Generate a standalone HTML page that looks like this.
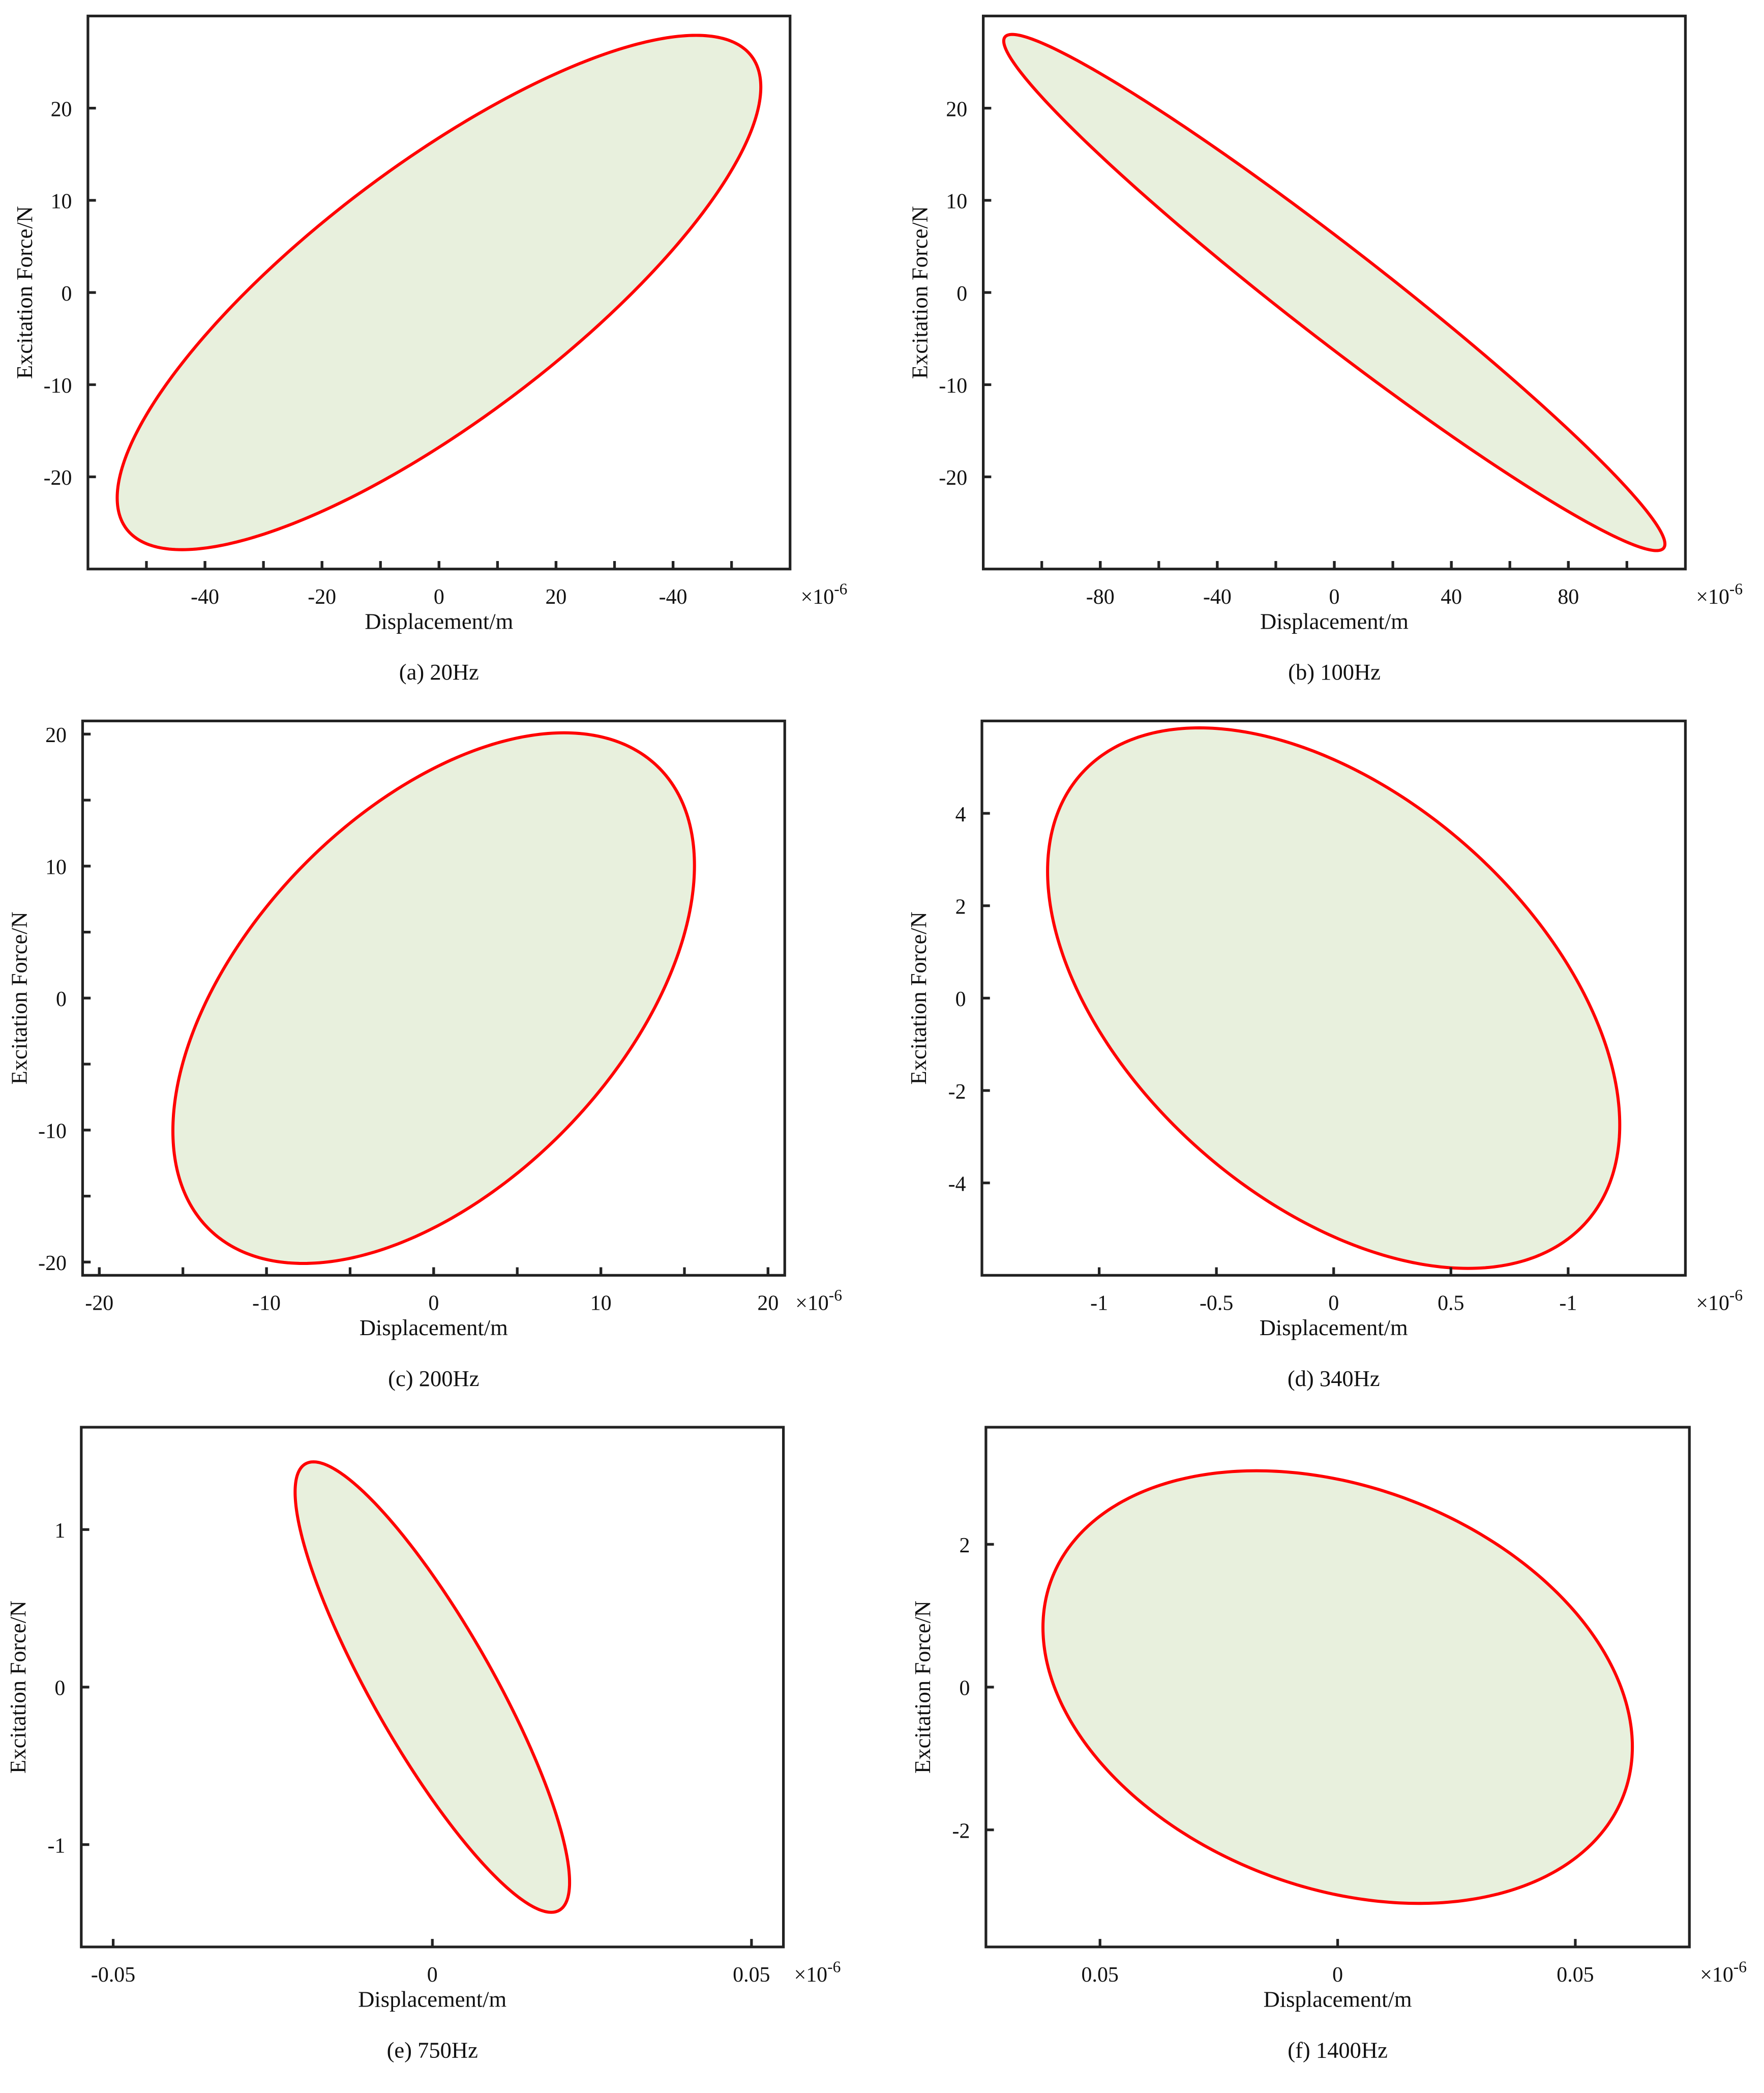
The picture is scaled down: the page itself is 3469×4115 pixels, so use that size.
<!DOCTYPE html>
<html><head><meta charset="utf-8"><style>
html,body{margin:0;padding:0;background:#fff;}
svg{display:block;}
text{font-family:"Liberation Serif",serif;fill:#111;}
</style></head><body>
<svg id="fig" xmlns="http://www.w3.org/2000/svg" width="3469" height="4115" viewBox="0 0 1324 1570.6" preserveAspectRatio="none"></svg>
<script>
// Panel data: displacement amplitude (x1e-6 m), force amplitude (N), phase (deg)
const captions = ["(a) 20Hz","(b) 100Hz","(c) 200Hz","(d) 340Hz","(e) 750Hz","(f) 1400Hz"];
const dispAmp = [55, 113, 15.6, 1.22, 0.0215, 0.062];
const forceAmp = [27.9, 28.0, 20.1, 5.85, 1.43, 3.03];
const phaseDeg = [37, 167, 60, 118, 150, 106];
const xRanges = [[-60,60],[-120,120],[-21,21],[-1.5,1.5],[-0.055,0.055],[-0.074,0.074]];
const yRanges = [[-30,30],[-30,30],[-21,21],[-6,6],[-1.65,1.65],[-3.64,3.64]];
const xTickVals = [[-40,-20,0,20,40],[-80,-40,0,40,80],[-20,-10,0,10,20],[-1,-0.5,0,0.5,1],[-0.05,0,0.05],[-0.05,0,0.05]];
const xTickLabels = [["-40","-20","0","20","-40"],["-80","-40","0","40","80"],["-20","-10","0","10","20"],["-1","-0.5","0","0.5","-1"],["-0.05","0","0.05"],["0.05","0","0.05"]];
const xMinor = [10,20,5,0,0,0];
const yTickVals = [[-20,-10,0,10,20],[-20,-10,0,10,20],[-20,-10,0,10,20],[-4,-2,0,2,4],[-1,0,1],[-2,0,2]];
const yTickLabels = [["-20","-10","0","10","20"],["-20","-10","0","10","20"],["-20","-10","0","10","20"],["-4","-2","0","2","4"],["-1","0","1"],["-2","0","2"]];
const yMinor = [0,0,5,0,0,0];

const boxes = [[66,12,593,427],[738,12,1265,427],[62,541,589,957],[737,541,1265,957],[61,1071,588,1461],[740,1071,1268,1461]];
const NS="http://www.w3.org/2000/svg";
const svg=document.getElementById('fig');
function mk(tag,attrs,parent){const e=document.createElementNS(NS,tag);for(const k in attrs)e.setAttribute(k,attrs[k]);(parent||svg).appendChild(e);return e;}

boxes.forEach((b,i)=>{
  const [x0,y0,x1,y1]=b;
  const g=mk('g',{});
  
  
  const sx=v=>x0+(v-xRanges[i][0])/(xRanges[i][1]-xRanges[i][0])*(x1-x0);
  const sy=v=>y1-(v-yRanges[i][0])/(yRanges[i][1]-yRanges[i][0])*(y1-y0);
  let d='';const A=dispAmp[i],B=forceAmp[i],ph=phaseDeg[i]*Math.PI/180;
  for(let k=0;k<=360;k++){const t=k*Math.PI/180;const X=A*Math.cos(t),Y=B*Math.cos(t-ph);d+=(k?'L':'M')+sx(X).toFixed(2)+' '+sy(Y).toFixed(2);}
  const p=mk('path',{d:d+'Z',fill:'#e8f0dd',stroke:'#ff0000','stroke-width':2.3},g);
  
  
  const r=mk('rect',{x:x0,y:y0,width:x1-x0,height:y1-y0,fill:'none',stroke:'#222','stroke-width':2},g);
  
  
  const xt=[...xTickVals[i]];
  if(xMinor[i]){for(let v=Math.ceil(xRanges[i][0]/xMinor[i])*xMinor[i];v<=xRanges[i][1];v+=xMinor[i])xt.push(v);}
  xt.forEach(v=>{const X=sx(v);if(X<=x0+1||X>=x1-1)return;mk('line',{x1:X,x2:X,y1:y1,y2:y1-6,stroke:'#222','stroke-width':2},g);});
  xTickVals[i].forEach((v,j)=>{const t=mk('text',{x:sx(v),y:y1+26,'text-anchor':'middle','font-size':16},g);t.textContent=xTickLabels[i][j];
    
    });
  const yt=[...yTickVals[i]];
  if(yMinor[i]){for(let v=Math.ceil(yRanges[i][0]/yMinor[i])*yMinor[i];v<=yRanges[i][1];v+=yMinor[i])yt.push(v);}
  yt.forEach(v=>{const Y=sy(v);if(Y<=y0+1||Y>=y1-1)return;mk('line',{x1:x0,x2:x0+6,y1:Y,y2:Y,stroke:'#222','stroke-width':2},g);});
  yTickVals[i].forEach((v,j)=>{const t=mk('text',{x:x0-12,y:sy(v)+6,'text-anchor':'end','font-size':16},g);t.textContent=yTickLabels[i][j];
    
    });
  const ex=mk('text',{x:x1+8,y:y1+26,'font-size':16},g);
  ex.innerHTML='×10<tspan dy="-7" font-size="12">-6</tspan>';
  
  
  const xl=mk('text',{x:(x0+x1)/2,y:y1+45,'text-anchor':'middle','font-size':17},g);xl.textContent='Displacement/m';
  
  
  const cx=x0-42,cy=(y0+y1)/2;
  const yl=mk('text',{x:cx,y:cy,'text-anchor':'middle','font-size':17,transform:`rotate(-90 ${cx} ${cy})`},g);yl.textContent='Excitation Force/N';
  
  
  const cp=mk('text',{x:(x0+x1)/2,y:y1+83,'text-anchor':'middle','font-size':17},g);cp.textContent=captions[i];
  
  
});
</script>
</body></html>
